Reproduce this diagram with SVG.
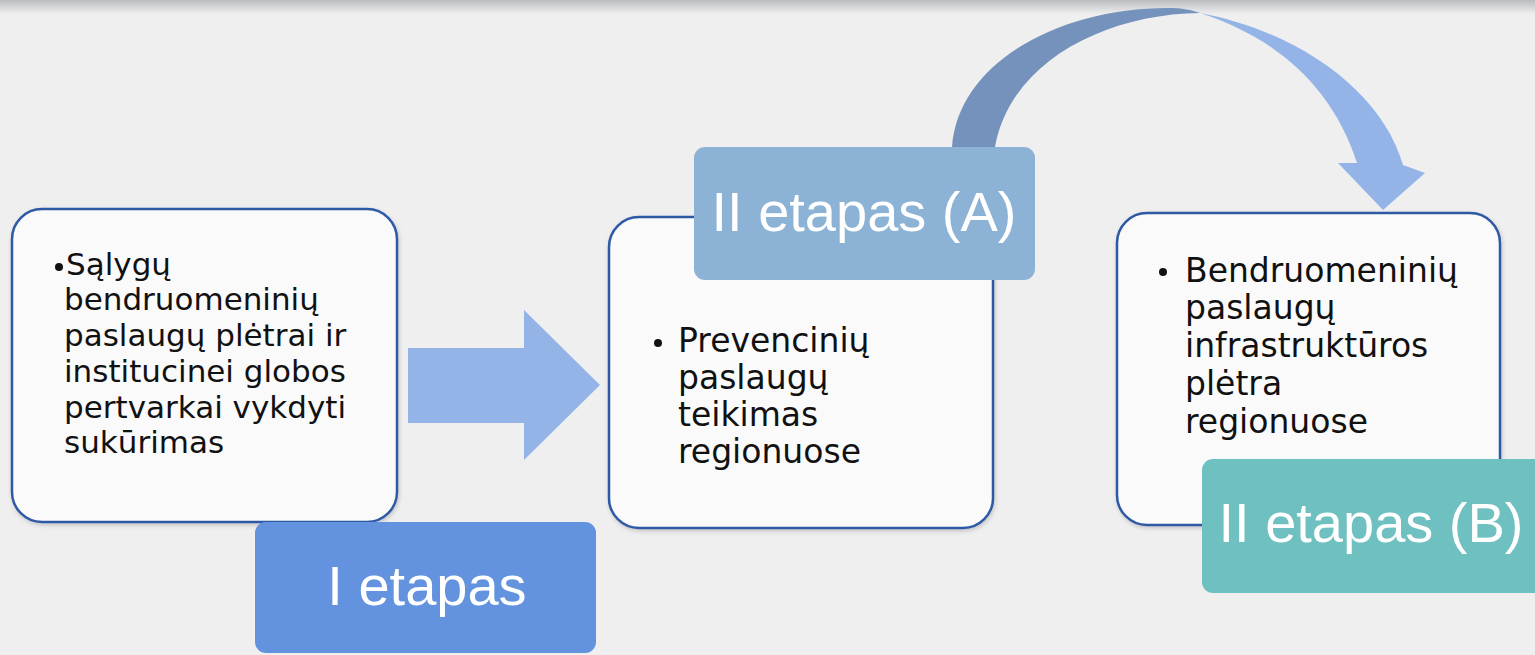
<svg xmlns="http://www.w3.org/2000/svg" width="1535" height="655" viewBox="0 0 1535 655">
<defs>
<linearGradient id="topShade" x1="0" y1="0" x2="0" y2="1">
<stop offset="0" stop-color="#b9bcc0"/>
<stop offset="1" stop-color="#efefef"/>
</linearGradient>
<filter id="sh" x="-5%" y="-5%" width="110%" height="110%">
<feDropShadow dx="1" dy="2" stdDeviation="2" flood-color="#000" flood-opacity="0.18"/>
</filter>
</defs>
<style>
.box{fill:#fafafa;stroke:#2f5aa5;stroke-width:2.5}
.body{font-family:"DejaVu Sans",sans-serif;fill:#111}
.lbl{font-family:"Liberation Sans",Arial,sans-serif;font-size:56px;fill:#ffffff;text-anchor:middle}
</style>
<rect x="0" y="0" width="1535" height="655" fill="#efefef"/>
<rect x="0" y="0" width="1535" height="14" fill="url(#topShade)"/>

<g id="connectors">
<polygon points="408,348 524,348 524,310 600,385 524,460 524,423 408,423" fill="#94b4e8"/>
<path d="M952,147 C958,62 1060,8 1168,8 C1182,8 1192,10 1200,13 C1105,14 1010,62 995,147 Z" fill="#7592bd"/>
<path d="M1200,13 C1300,32 1382,92 1403,165 L1425,173 L1383,210 L1338,163 L1357,163 C1332,84 1272,36 1200,13 Z" fill="#94b4e8"/>
</g>

<g id="node1">
<rect class="box" x="12" y="209" width="385" height="313" rx="30" filter="url(#sh)"/>
<circle cx="59" cy="267" r="4" fill="#111"/>
<text class="body" font-size="31">
<tspan x="66" y="275">Sąlygų</tspan>
<tspan x="64" y="310">bendruomeninių</tspan>
<tspan x="64" y="346">paslaugų plėtrai ir</tspan>
<tspan x="64" y="382">institucinei globos</tspan>
<tspan x="64" y="418">pertvarkai vykdyti</tspan>
<tspan x="64" y="453">sukūrimas</tspan>
</text>
</g>

<g id="label1">
<rect x="255" y="522" width="341" height="131" rx="11" fill="#6393de"/>
<text class="lbl" x="427" y="605">I etapas</text>
</g>

<g id="node2">
<rect class="box" x="609" y="217" width="384" height="311" rx="30" filter="url(#sh)"/>
<circle cx="658" cy="343" r="4" fill="#111"/>
<text class="body" font-size="33">
<tspan x="678" y="352">Prevencinių</tspan>
<tspan x="678" y="389">paslaugų</tspan>
<tspan x="678" y="426">teikimas</tspan>
<tspan x="678" y="463">regionuose</tspan>
</text>
</g>

<g id="labelA">
<rect x="694" y="147" width="341" height="133" rx="11" fill="#8cb3d5"/>
<text class="lbl" x="864" y="231">II etapas (A)</text>
</g>

<g id="node3">
<rect class="box" x="1117" y="213" width="383" height="312" rx="30" filter="url(#sh)"/>
<circle cx="1163" cy="272" r="4" fill="#111"/>
<text class="body" font-size="33">
<tspan x="1185" y="282">Bendruomeninių</tspan>
<tspan x="1185" y="319">paslaugų</tspan>
<tspan x="1185" y="357">infrastruktūros</tspan>
<tspan x="1185" y="395">plėtra</tspan>
<tspan x="1185" y="433">regionuose</tspan>
</text>
</g>

<g id="labelB">
<rect x="1202" y="459" width="345" height="134" rx="11" fill="#6fc0c0"/>
<text class="lbl" x="1371" y="542">II etapas (B)</text>
</g>
</svg>
